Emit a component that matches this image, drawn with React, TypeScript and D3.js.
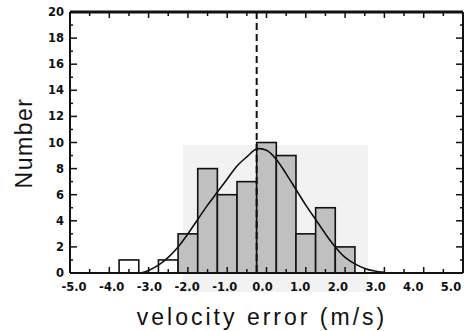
import React, { useEffect, useRef } from 'react';
import * as d3 from 'd3';

// histogram of velocity errors (bin left edge, count)
const outlierBinStarts = [-3.75, -2.75];
const outlierCounts = [1, 1];
const mainBinStarts = [-2.25, -1.75, -1.25, -0.75, -0.25, 0.25, 0.75, 1.25, 1.75];
const mainCounts = [3, 8, 6, 7, 10, 9, 3, 5, 2];
const binWidth = 0.5;

// fitted curve
const curveX = [-3.2, -3.0, -2.75, -2.5, -2.25, -2.0, -1.75, -1.5, -1.25, -1.0, -0.75, -0.5, -0.25, 0.0, 0.25, 0.5, 0.75, 1.0, 1.25, 1.5, 1.75, 2.0, 2.25, 2.5, 2.75, 3.0];
const curveY = [0.0, 0.2, 0.6, 1.2, 2.0, 3.0, 4.1, 5.2, 6.2, 7.2, 8.2, 8.9, 9.5, 9.4, 8.7, 7.6, 6.4, 5.2, 4.1, 3.0, 2.0, 1.2, 0.7, 0.35, 0.15, 0.05];

const meanError = -0.25;

const xTicks = [-5, -4, -3, -2, -1, 0, 1, 2, 3, 4, 5];
const yTicks = [0, 2, 4, 6, 8, 10, 12, 14, 16, 18, 20];

export default function App() {
  const svgRef = useRef<SVGSVGElement>(null);

  useEffect(() => {
    if (!svgRef.current) return;
    const svg = d3.select(svgRef.current);
    svg.selectAll('*').remove();

    const left = 70, right = 463, top = 12, bottom = 273;
    const x = d3.scaleLinear().domain([-5, 5]).range([left, right]);
    const y = d3.scaleLinear().domain([0, 20]).range([bottom, top]);
    // the printed labels sit a little inside the end ticks
    const xLabel = d3.scaleLinear().domain([-5, 5]).range([74, 451]);

    // faint grey patch from the scan
    svg.append('rect')
      .attr('x', 183).attr('y', 145).attr('width', 185).attr('height', 147)
      .attr('fill', '#f2f2f2');

    const g = svg.append('g');

    // bars
    const drawBars = (starts: number[], counts: number[], fill: string) => {
      g.selectAll(null)
        .data(starts.map((s, i) => ({ s, c: counts[i] })))
        .enter()
        .append('rect')
        .attr('x', d => x(d.s))
        .attr('y', d => y(d.c))
        .attr('width', d => x(d.s + binWidth) - x(d.s))
        .attr('height', d => y(0) - y(d.c))
        .attr('fill', fill)
        .attr('stroke', '#111')
        .attr('stroke-width', 1.6);
    };
    drawBars(outlierBinStarts, outlierCounts, '#ffffff');
    drawBars(mainBinStarts, mainCounts, '#c0c0c0');

    // fitted curve
    const line = d3.line<number>()
      .x((_, i) => x(curveX[i]))
      .y(d => y(d))
      .curve(d3.curveCatmullRom);
    g.append('path')
      .datum(curveY)
      .attr('d', line)
      .attr('fill', 'none')
      .attr('stroke', '#111')
      .attr('stroke-width', 1.6);

    // mean line
    g.append('line')
      .attr('x1', x(meanError)).attr('x2', x(meanError))
      .attr('y1', top).attr('y2', bottom)
      .attr('stroke', '#111')
      .attr('stroke-width', 2)
      .attr('stroke-dasharray', '7,4');

    // inward ticks on all four sides
    const minorX = d3.range(-5, 5.01, 0.5);
    const minorY = d3.range(0, 20.01, 1);
    const tickG = svg.append('g').attr('stroke', '#111').attr('stroke-width', 1.5);
    minorX.forEach(v => {
      const len = Math.abs(v - Math.round(v)) < 1e-6 ? 6 : 4;
      tickG.append('line').attr('x1', x(v)).attr('x2', x(v)).attr('y1', bottom).attr('y2', bottom - len);
      tickG.append('line').attr('x1', x(v)).attr('x2', x(v)).attr('y1', top).attr('y2', top + len);
    });
    minorY.forEach(v => {
      const len = v % 2 === 0 ? 7 : 3;
      tickG.append('line').attr('x1', left).attr('x2', left + len).attr('y1', y(v)).attr('y2', y(v));
      tickG.append('line').attr('x1', right).attr('x2', right - len).attr('y1', y(v)).attr('y2', y(v));
    });

    // frame
    svg.append('line').attr('x1', left).attr('x2', right).attr('y1', top).attr('y2', top)
      .attr('stroke', '#111').attr('stroke-width', 3);
    svg.append('line').attr('x1', left).attr('x2', right).attr('y1', bottom).attr('y2', bottom)
      .attr('stroke', '#111').attr('stroke-width', 2.2);
    svg.append('line').attr('x1', left).attr('x2', left).attr('y1', top).attr('y2', bottom)
      .attr('stroke', '#111').attr('stroke-width', 2);
    svg.append('line').attr('x1', right).attr('x2', right).attr('y1', top).attr('y2', bottom)
      .attr('stroke', '#111').attr('stroke-width', 2);

    // tick labels
    const fmt = d3.format('.1f');
    svg.append('g').selectAll('text').data(xTicks).enter().append('text')
      .attr('x', d => xLabel(d))
      .attr('y', bottom + 18)
      .attr('text-anchor', 'middle')
      .style('font-family', 'DejaVu Sans, sans-serif')
      .style('font-weight', 'bold')
      .style('font-size', '11.5px')
      .attr('fill', '#111')
      .text(d => fmt(d).replace('−', '-'));

    svg.append('g').selectAll('text').data(yTicks).enter().append('text')
      .attr('x', left - 6)
      .attr('y', d => y(d) + 4)
      .attr('text-anchor', 'end')
      .style('font-family', 'DejaVu Sans, sans-serif')
      .style('font-weight', 'bold')
      .style('font-size', '11.5px')
      .attr('fill', '#111')
      .text(d => String(d));

    // axis titles
    svg.append('text')
      .attr('x', 262)
      .attr('y', 325)
      .attr('text-anchor', 'middle')
      .style('font-family', 'Liberation Sans, Arial, sans-serif')
      .style('font-size', '23px')
      .style('letter-spacing', '3px')
      .attr('fill', '#111')
      .text('velocity error (m/s)');

    svg.append('text')
      .attr('transform', 'translate(32,143) rotate(-90)')
      .attr('text-anchor', 'middle')
      .style('font-family', 'Liberation Sans, Arial, sans-serif')
      .style('font-size', '23px')
      .style('letter-spacing', '1.5px')
      .attr('fill', '#111')
      .text('Number');
  }, []);

  return (
    <svg ref={svgRef} width="469" height="331"
      style={{ position: 'fixed', left: 0, top: 0, background: '#fff' }} />
  );
}
